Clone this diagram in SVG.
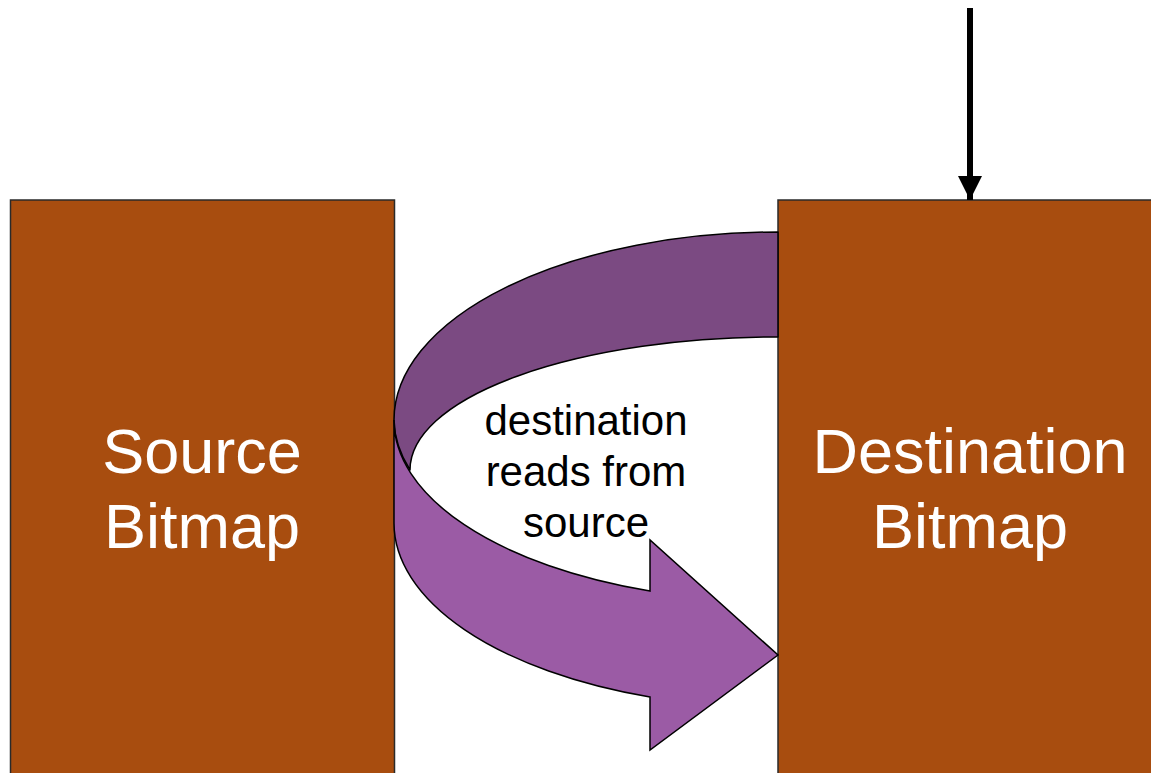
<svg xmlns="http://www.w3.org/2000/svg" width="1151" height="773" viewBox="0 0 1151 773">
  <style>
    .bitmap { fill: #A84D0F; stroke: #2A2A2A; stroke-width: 1.5; }
    .label { font-family: "Liberation Sans", Arial, sans-serif; fill: #FFFFFF; font-size: 63px; text-anchor: middle; }
    .note { font-family: "Liberation Sans", Arial, sans-serif; fill: #000000; font-size: 42px; text-anchor: middle; }
    .band-back { fill: #7B4A82; stroke: #000000; stroke-width: 1.5; stroke-linejoin: round; }
    .band-front { fill: #9B5BA5; stroke: #000000; stroke-width: 1.5; stroke-linejoin: miter; }
  </style>
  <defs>
    <marker id="head" markerUnits="userSpaceOnUse" markerWidth="24" markerHeight="26" refX="24" refY="12" orient="auto">
      <path d="M0,0 L24,12 L0,24 Z" fill="#000000"/>
    </marker>
  </defs>
  <rect width="1151" height="773" fill="#FFFFFF"/>

  <g id="source-bitmap">
    <rect class="bitmap" x="10.5" y="200" width="384" height="590"/>
    <text class="label" x="202" y="473">Source</text>
    <text class="label" x="202" y="548">Bitmap</text>
  </g>

  <g id="destination-bitmap">
    <rect class="bitmap" x="778" y="200" width="400" height="590"/>
    <text class="label" x="970" y="473">Destination</text>
    <text class="label" x="970" y="548">Bitmap</text>
  </g>

  <g id="connectors">
    <!-- curved arrow: back band -->
    <path class="band-back" d="M778,232 A384,188 0 0 0 394,420 A384,181 0 0 0 410,470 A368,133 0 0 1 778,337 Z"/>
    <!-- curved arrow: front band with head -->
    <path class="band-front" d="M394,420 L394,523 A384,184.5 0 0 0 650,697 L650,750 L778,655 L650,540 L650,591 A384,181 0 0 1 394,420 Z"/>
    <!-- incoming arrow from above -->
    <line x1="970" y1="8" x2="970" y2="200" stroke="#000000" stroke-width="6" marker-end="url(#head)"/>
  </g>

  <g id="curve-label">
    <text class="note" x="586" y="435">destination</text>
    <text class="note" x="586" y="486">reads from</text>
    <text class="note" x="586" y="537">source</text>
  </g>
</svg>
